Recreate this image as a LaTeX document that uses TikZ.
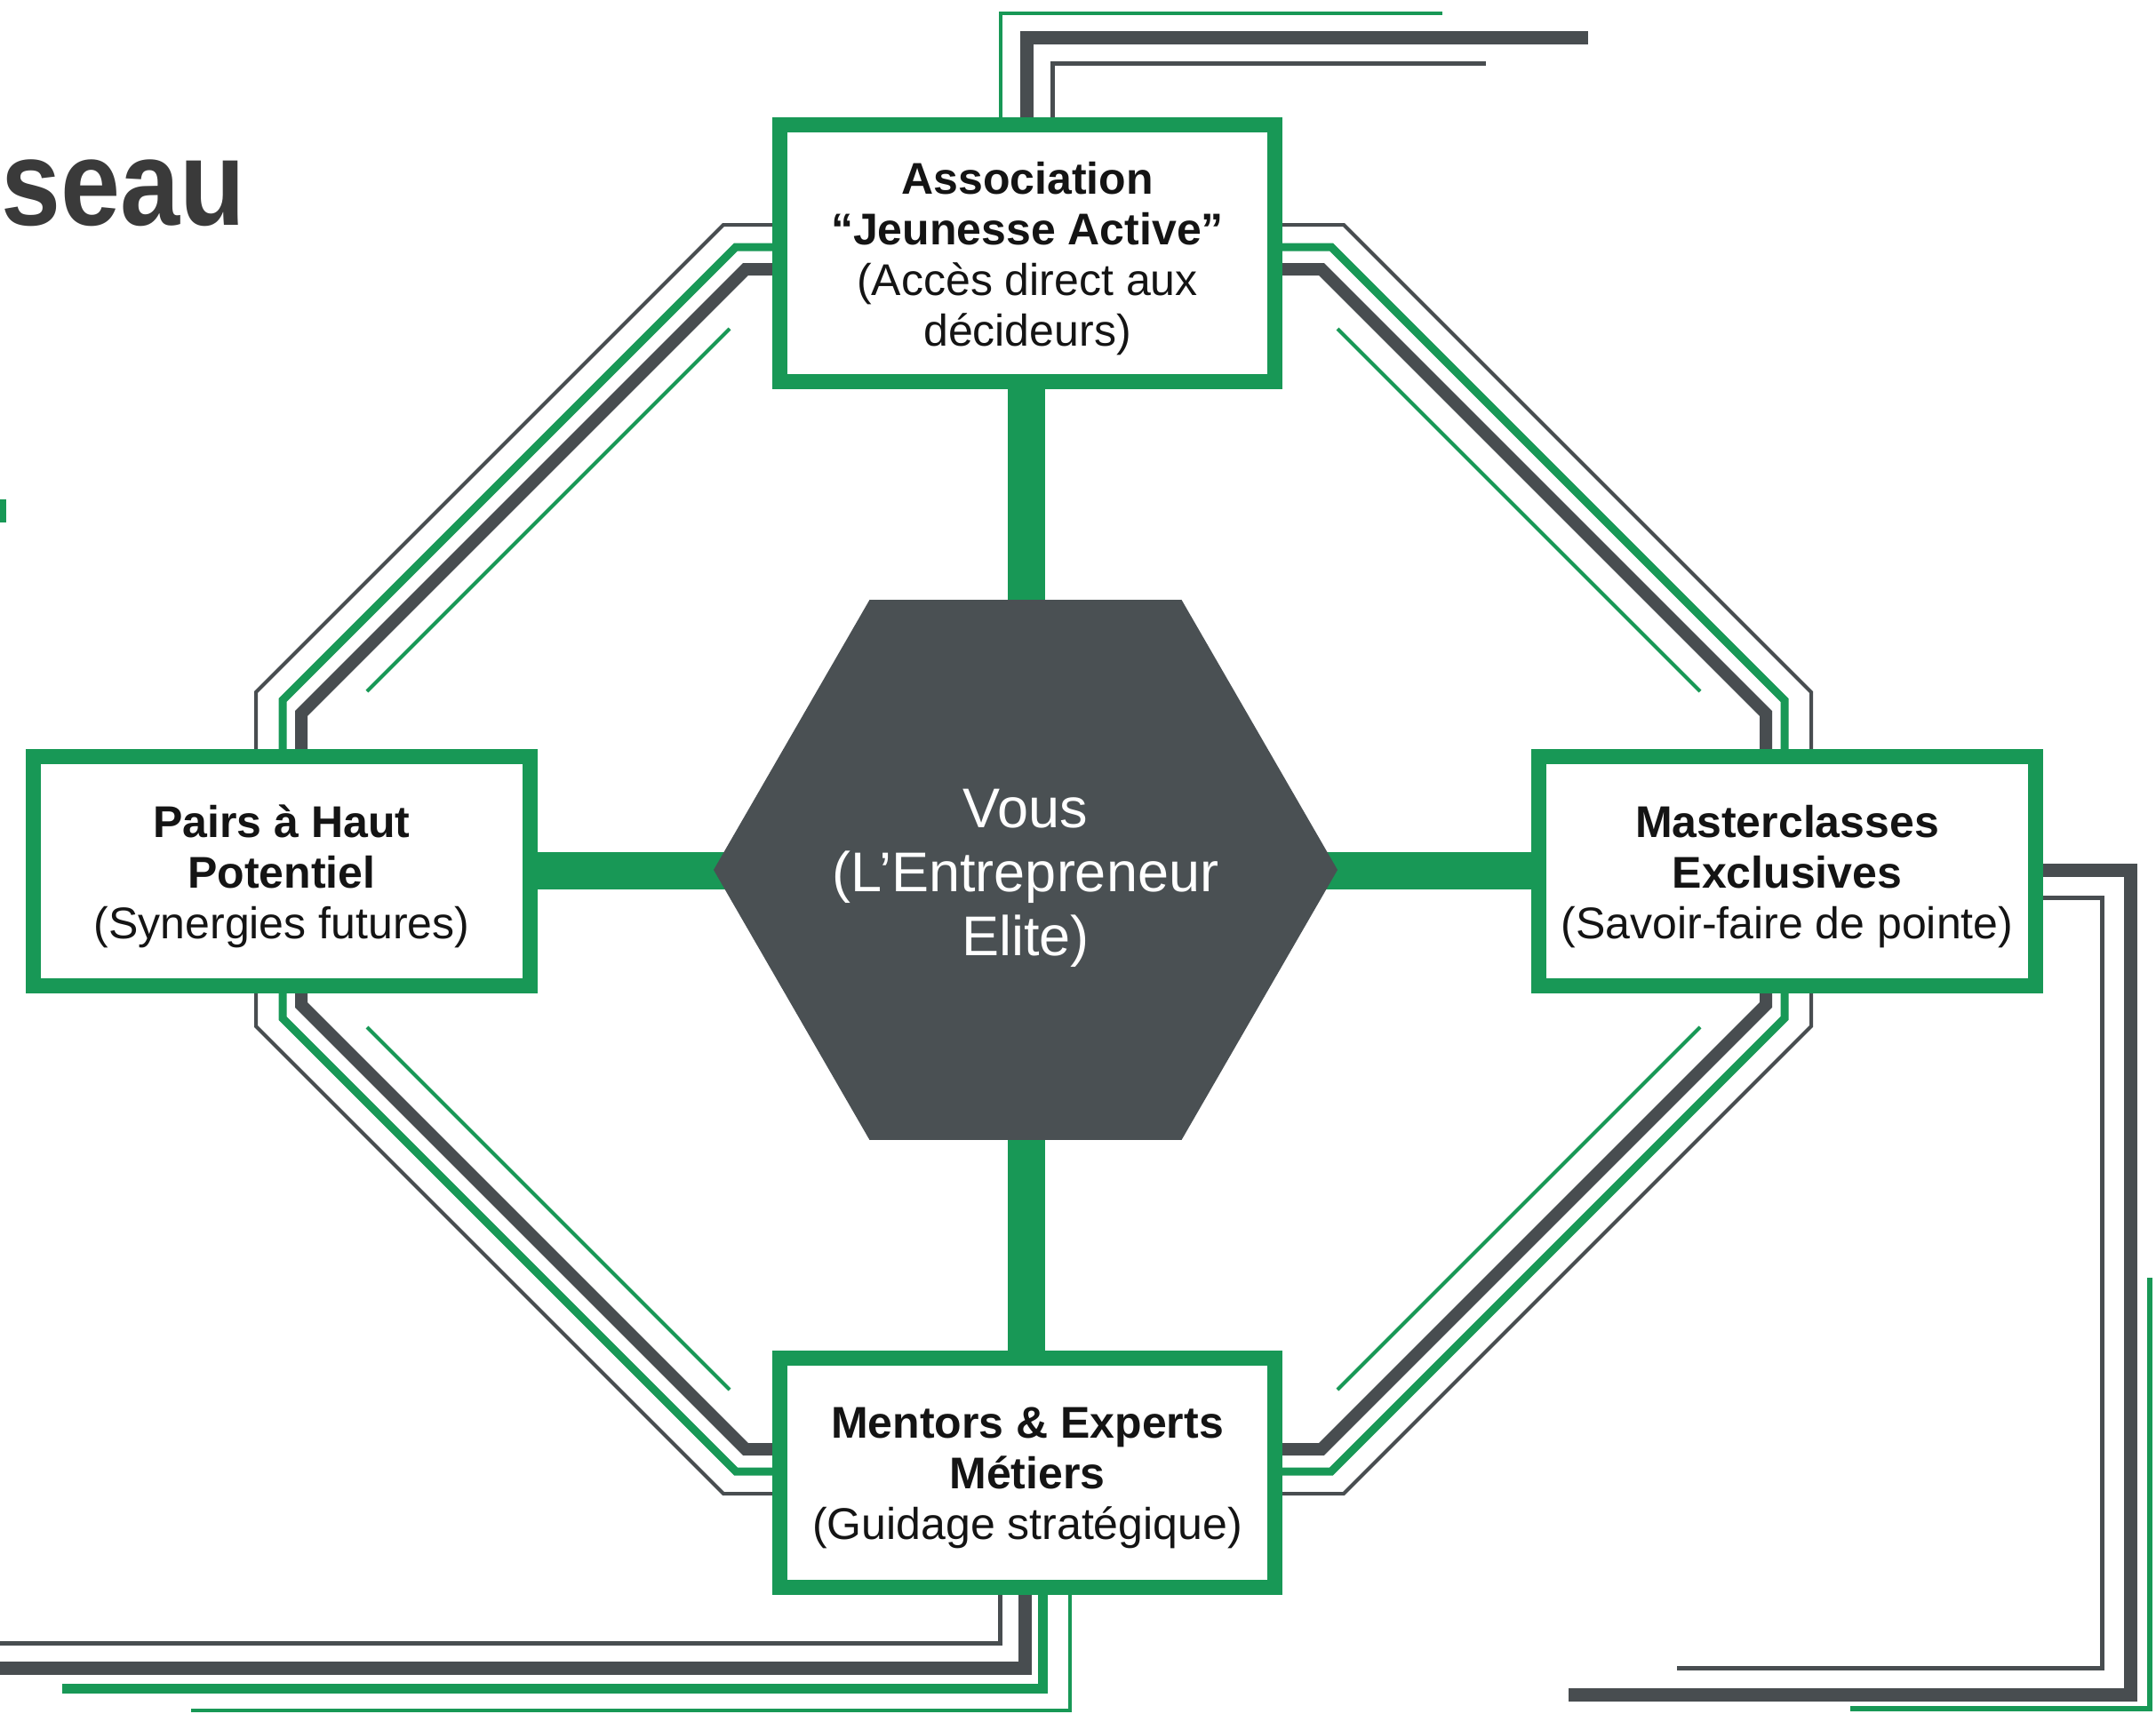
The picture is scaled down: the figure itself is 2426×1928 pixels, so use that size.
\documentclass[tikz,border=0pt]{standalone}
\usepackage{fontspec}
\usepackage{graphicx}
\setmainfont{Liberation Sans}
\usetikzlibrary{shapes.geometric,backgrounds}
\definecolor{grn}{RGB}{24,152,86}
\definecolor{dgray}{RGB}{72,77,80}
\definecolor{hexgray}{RGB}{74,80,83}
\definecolor{txt}{RGB}{20,20,20}
\definecolor{titlegray}{RGB}{58,58,58}
\begin{document}
\begin{tikzpicture}[x=1pt,y=-1pt,
  box/.style={draw=grn, line width=17pt, fill=white, inner sep=0pt},
  boxtext/.style={inner sep=0pt, align=center, text=txt, font=\fontsize{50}{57}\selectfont},
  hexnode/.style={regular polygon, regular polygon sides=6,
              minimum size=702pt, fill=hexgray, inner sep=0pt},
  hextext/.style={inner sep=0pt, text=white, align=center, font=\fontsize{63}{72}\selectfont},
  conn/.style={grn, line width=42pt},
  olthin/.style={dgray, line width=4pt},
  olmid/.style={grn, line width=9pt},
  olthick/.style={dgray, line width=14pt},
  olinner/.style={grn, line width=4pt},
  extthin/.style={dgray, line width=5pt},
  extthick/.style={dgray, line width=15pt},
  extgreen/.style={grn, line width=11pt},
  extgreenthin/.style={grn, line width=4pt}]

\useasboundingbox (0,0) rectangle (2426,1928);

% title fragment
\node[anchor=base west, inner sep=0pt, text=titlegray, font=\fontsize{137}{137}\selectfont\bfseries] (title) at (1,253) {\scalebox{0.88}[1]{seau}};
\fill[grn] (0,562) rectangle (7,588);

% boxes
\node[box, minimum width=557pt, minimum height=289pt] (top) at (1156,285) {};
\node[boxtext] (toptext) at ([yshift=-6pt]top.center)
  {\textbf{Association}\\\textbf{“Jeunesse Active”}\\(Accès direct aux\\décideurs)};
\node[box, minimum width=559pt, minimum height=258pt] (left) at (317,980.5) {};
\node[boxtext] (lefttext) at ([yshift=-6pt]left.center)
  {\textbf{Pairs à Haut}\\\textbf{Potentiel}\\(Synergies futures)};
\node[box, minimum width=559pt, minimum height=258pt] (right) at (2011,980.5) {};
\node[boxtext] (righttext) at ([yshift=-6pt]right.center)
  {\textbf{Masterclasses}\\\textbf{Exclusives}\\(Savoir-faire de pointe)};
\node[box, minimum width=557pt, minimum height=258pt] (bottom) at (1156,1657.5) {};
\node[boxtext] (bottomtext) at ([yshift=-6pt]bottom.center)
  {\textbf{Mentors \& Experts}\\\textbf{Métiers}\\(Guidage stratégique)};

% centre
\node[hexnode] (you) at (1154,979) {};
\node[hextext] (youtext) at ([yshift=-9pt]you.center) {Vous\\(L’Entrepreneur\\Elite)};

\begin{scope}[on background layer]
  \fill[white] (0,0) rectangle (2426,1928);
  % spokes
  \draw[conn] (1155,0 |- top.center) -- (1155,0 |- you.center);
  \draw[conn] (1155,0 |- bottom.center) -- (1155,0 |- you.center);
  \draw[conn] (left.center |- 0,980) -- (you.center |- 0,980);
  \draw[conn] (right.center |- 0,980) -- (you.center |- 0,980);

  % top-right side
  \draw[olthin]  (top.center |- 0,253) -- (1512,253) -- (2038,779) -- (2038,0 |- right.center);
  \draw[olmid]   (top.center |- 0,278) -- (1498,278) -- (2008,788) -- (2008,0 |- right.center);
  \draw[olthick] (top.center |- 0,303) -- (1487,303) -- (1987,803) -- (1987,0 |- right.center);
  \draw[olinner] (1505,370) -- (1913,778);
  % top-left side
  \draw[olthin]  (top.center |- 0,253) -- (814,253) -- (288,779) -- (288,0 |- left.center);
  \draw[olmid]   (top.center |- 0,278) -- (828,278) -- (318,788) -- (318,0 |- left.center);
  \draw[olthick] (top.center |- 0,303) -- (839,303) -- (339,803) -- (339,0 |- left.center);
  \draw[olinner] (821,370) -- (413,778);
  % bottom-right side
  \draw[olthin]  (bottom.center |- 0,1681) -- (1512,1681) -- (2038,1155) -- (2038,0 |- right.center);
  \draw[olmid]   (bottom.center |- 0,1656) -- (1498,1656) -- (2008,1146) -- (2008,0 |- right.center);
  \draw[olthick] (bottom.center |- 0,1631) -- (1487,1631) -- (1987,1131) -- (1987,0 |- right.center);
  \draw[olinner] (1505,1564) -- (1913,1156);
  % bottom-left side
  \draw[olthin]  (bottom.center |- 0,1681) -- (814,1681) -- (288,1155) -- (288,0 |- left.center);
  \draw[olmid]   (bottom.center |- 0,1656) -- (828,1656) -- (318,1146) -- (318,0 |- left.center);
  \draw[olthick] (bottom.center |- 0,1631) -- (839,1631) -- (339,1131) -- (339,0 |- left.center);
  \draw[olinner] (821,1564) -- (413,1156);

  % external lines: top
  \draw[extgreenthin] (1126,0 |- top.center) -- (1126,15) -- (1623,15);
  \draw[extthick] (1155,0 |- top.center) -- (1155,42) -- (1787,42);
  \draw[extthin] (1184,0 |- top.center) -- (1184,71) -- (1672,71);
  % external lines: bottom
  \draw[extthin] (1125,0 |- bottom.center) -- (1125,1849) -- (-20,1849);
  \draw[extthick] (1153,0 |- bottom.center) -- (1153,1877) -- (-20,1877);
  \draw[extgreen] (1173,0 |- bottom.center) -- (1173,1900) -- (70,1900);
  \draw[extgreenthin] (1204,0 |- bottom.center) -- (1204,1925) -- (215,1925);
  % external lines: right
  \draw[extthick] (right.center |- 0,979) -- (2397,979) -- (2397,1907) -- (1765,1907);
  \draw[extthin] (right.center |- 0,1010) -- (2365,1010) -- (2365,1877) -- (1887,1877);
  \coordinate (gstart) at (2419,1438);
  \draw[grn, line width=6pt] (gstart) -- (2419,1923) -- (2082,1923);
\end{scope}
\end{tikzpicture}
\end{document}
